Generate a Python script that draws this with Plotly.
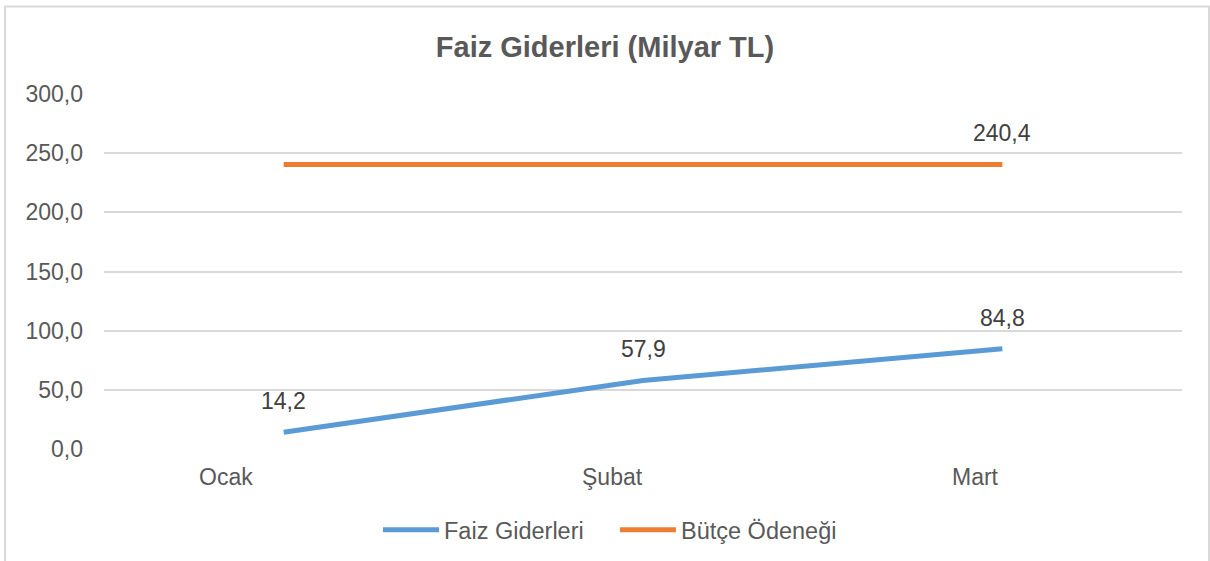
import plotly.graph_objects as go

# ---- data ----
months = ["Ocak", "Şubat", "Mart"]
faiz_giderleri = [14.2, 57.9, 84.8]
butce_odenegi = [240.4, 240.4, 240.4]
y_ticks = [0, 50, 100, 150, 200, 250, 300]

series_names = ["Faiz Giderleri", "Bütçe Ödeneği"]

BLUE = "#5B9BD5"
ORANGE = "#ED7D31"
GRID = "#D9D9D9"
TXT = "#595959"
LBL = "#404040"
FONT = "Liberation Sans, Arial, sans-serif"
FS = 23

def fmt(v):
    return f"{v:.1f}".replace(".", ",")

xs = list(range(len(months)))

fig = go.Figure()
fig.add_trace(go.Scatter(x=xs, y=faiz_giderleri, mode="lines", name=series_names[0],
                         line=dict(color=BLUE, width=5)))
fig.add_trace(go.Scatter(x=xs, y=butce_odenegi, mode="lines", name=series_names[1],
                         line=dict(color=ORANGE, width=5)))

annotations = []
# data labels: all points of Faiz Giderleri, last point of Bütçe Ödeneği
for i, v in enumerate(faiz_giderleri):
    annotations.append(dict(x=xs[i], y=v, xref="x", yref="y", text=fmt(v), showarrow=False,
                            yshift=31, font=dict(size=FS, color=LBL, family=FONT)))
annotations.append(dict(x=xs[-1], y=butce_odenegi[-1], xref="x", yref="y",
                        text=fmt(butce_odenegi[-1]), showarrow=False, yshift=32,
                        font=dict(size=FS, color=LBL, family=FONT)))
# category labels (offset like the reference)
cat_shift = [-58, -31, -27]
for i, m in enumerate(months):
    annotations.append(dict(x=xs[i], y=0, xref="x", yref="paper", text=m, showarrow=False,
                            yanchor="middle", yshift=-28, xshift=cat_shift[i],
                            font=dict(size=FS, color=TXT, family=FONT)))

fig.update_layout(
    width=1210, height=561,
    margin=dict(l=104, r=28, t=94, b=112),
    paper_bgcolor="white", plot_bgcolor="white",
    separators=",.",
    title=dict(text="<b>Faiz Giderleri (Milyar TL)</b>", x=0.5, xref="container", xanchor="center",
               y=1 - 47 / 561, yref="container", yanchor="middle",
               font=dict(size=29, color=TXT, family=FONT)),
    xaxis=dict(range=[-0.5, 2.5], showgrid=False, zeroline=False, showticklabels=False,
               showline=False, fixedrange=True),
    yaxis=dict(range=[0, 300], tickvals=y_ticks, tickformat=".1f", showgrid=True,
               gridcolor=GRID, gridwidth=1.5, zeroline=False, showline=False, ticks="",
               ticklabelstandoff=20, fixedrange=True,
               tickfont=dict(size=FS, color=TXT, family=FONT)),
    legend=dict(orientation="h", x=0.5 + 10 / 1210, xanchor="center", xref="container",
                y=1 - 530 / 561, yref="container", yanchor="middle",
                font=dict(size=23.5, color=TXT, family=FONT), itemwidth=56,
                entrywidth=166, entrywidthmode="pixels",
                traceorder="normal"),
    annotations=annotations,
    shapes=[dict(type="rect", xref="paper", yref="paper",
                 x0=(5 - 104) / 1078, x1=(1209 - 104) / 1078,
                 y0=(449 - 575) / 354.5, y1=(449 - 7) / 354.5,
                 line=dict(color=GRID, width=2), fillcolor="rgba(0,0,0,0)", layer="below")],
    showlegend=True,
)

fig.write_html("out.html", config={"displayModeBar": False},
               post_script="document.body.style.margin='0px';")
